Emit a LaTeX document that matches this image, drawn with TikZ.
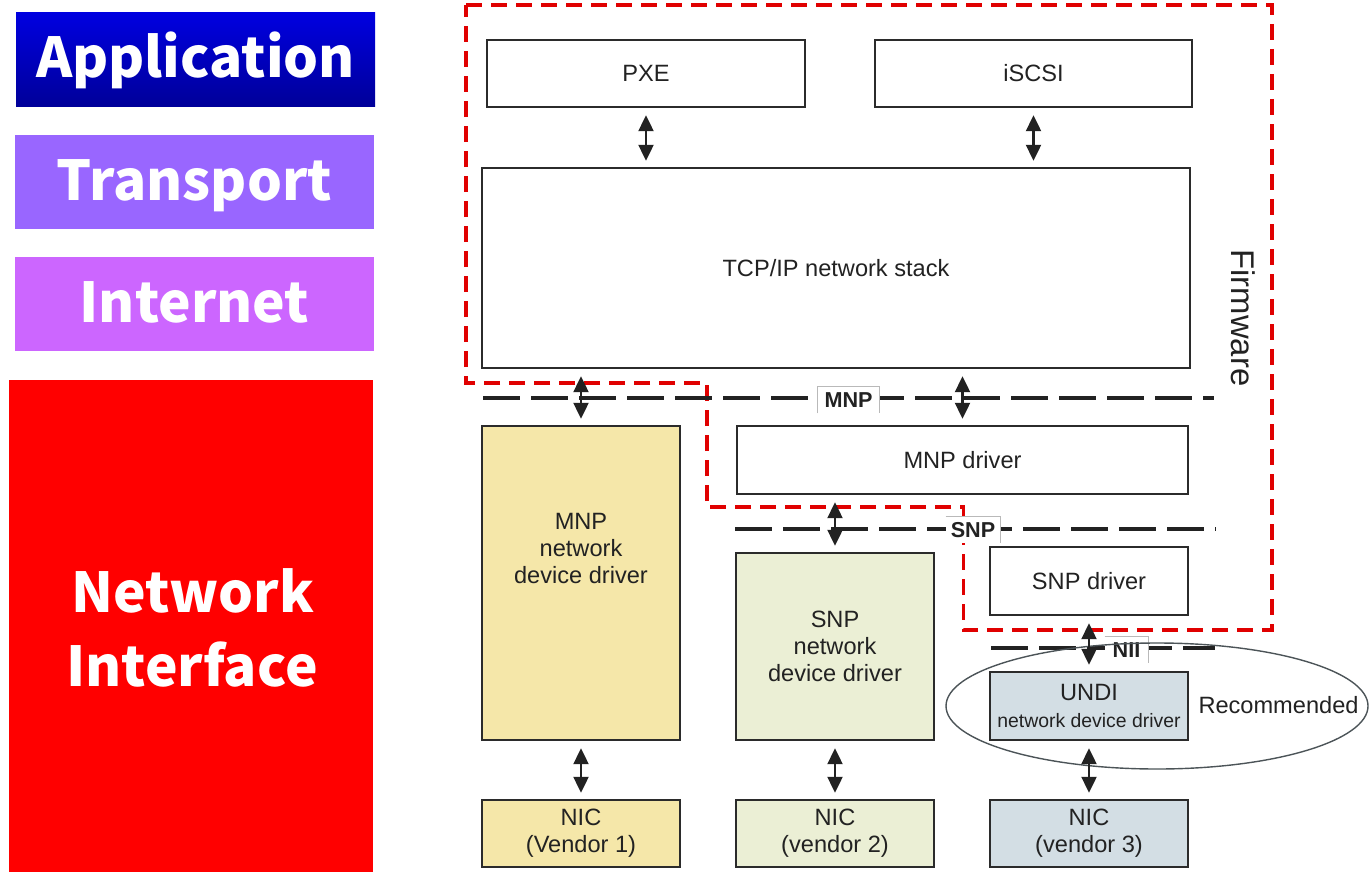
\documentclass[tikz,border=0pt]{standalone}
\usepackage{fontspec}
\setmainfont{Liberation Sans}
\newfontfamily\bandeau{Noto Sans CJK SC}
\usepackage{xcolor}
\usepackage{tikz}
\usetikzlibrary{arrows.meta}
\definecolor{appbleuhaut}{HTML}{0000E0}
\definecolor{appbleubas}{HTML}{000099}
\definecolor{transportviolet}{HTML}{9966FF}
\definecolor{internetmauve}{HTML}{CC66FF}
\definecolor{reseaurouge}{HTML}{FF0000}
\definecolor{firmrouge}{HTML}{E00000}
\definecolor{encre}{HTML}{222222}
\definecolor{cadre}{HTML}{2B2B2B}
\definecolor{ellipsegris}{HTML}{4C5458}
\definecolor{jaunepale}{HTML}{F5E7A9}
\definecolor{vertpale}{HTML}{EBEFD5}
\definecolor{bleupale}{HTML}{D3DEE4}

\begin{document}
\begin{tikzpicture}[x=0.5pt, y=-0.5pt,
    couche/.style={inner sep=0pt, minimum width=179.5pt, minimum height=47pt,
        text=white, font=\bandeau\bfseries\fontsize{27.5}{31}\selectfont,
        text height=18pt, text depth=0pt},
    boite/.style={draw=cadre, line width=1.2pt, fill=white, inner sep=0pt,
        text=encre, align=center, font=\fontsize{11.8}{13.5}\selectfont},
    fleche/.style={{Triangle[length=8pt,width=7.5pt]}-{Triangle[length=8pt,width=7.5pt]},
        line width=1.1pt, encre, shorten <=3.5pt, shorten >=3pt},
    limite/.style={line width=2pt, encre, dash pattern=on 18.5pt off 5.5pt},
    onglet/.style={fill=white, inner sep=0pt, minimum height=13pt, text=encre,
        font=\bfseries\fontsize{10.8}{12}\selectfont},
    bordonglet/.style={gray!55, line width=0.6pt}]
    \useasboundingbox (0,0) rectangle (1369,872);

    % Couches du modele TCP/IP
    \node[couche, top color=appbleuhaut, bottom color=appbleubas] (application) at (195.5,59.5) {Application};
    \node[couche, fill=transportviolet] (transport) at (194.5,182) {Transport};
    \node[couche, fill=internetmauve] (internet) at (194.5,304) {Internet};
    \node[couche, fill=reseaurouge, minimum width=182pt, minimum height=246pt] (interface) at (191,626) {};
    \node[couche, anchor=base, text height=] (interfacehaut) at (192.5,612) {Network};
    \node[couche, anchor=base, text height=] (interfacebas) at (192,686) {Interface};

    % Contour du firmware
    \draw[firmrouge, line width=1.8pt, dash pattern=on 8pt off 4.5pt]
        (466,5) -- (1272,5) -- (1272,630) -- (963.5,630) -- (963.5,507)
        -- (707,507) -- (707,383) -- (466,383) -- cycle;
    \node[rotate=-90, text=encre, font=\fontsize{16.4}{18}\selectfont] (firmware) at (1243,318) {Firmware};

    % Interfaces MNP, SNP et NII
    \draw[limite] (483,398) -- (1214,398);
    \draw[limite] (735,529) -- (1216,529);
    \draw[limite] (991,648) -- (1215,648);
    \node[onglet, minimum width=30.5pt] (mnp) at (848.5,400) {MNP};
    \node[onglet, minimum width=27pt] (snp) at (973,530) {SNP};
    \node[onglet, minimum width=21.5pt] (nii) at (1126.5,650) {NII};
    \draw[bordonglet] (mnp.south west) |- (mnp.north east) -- (mnp.south east);
    \draw[bordonglet] (snp.north west) -- (snp.north east) -- (snp.south east);
    \draw[bordonglet] (nii.north west) -- (nii.north east) -- (nii.south east);

    % Pile reseau
    \node[boite, minimum width=159pt, minimum height=33.5pt] (pxe) at (646,73.5) {PXE};
    \node[boite, minimum width=158.5pt, minimum height=33.5pt] (iscsi) at (1033.5,73.5) {iSCSI};
    \node[boite, minimum width=354pt, minimum height=100pt] (tcpip) at (836,268) {TCP/IP network stack};
    \node[boite, minimum width=225.5pt, minimum height=34pt] (mnpdriver) at (962.5,460) {MNP driver};
    \node[boite, minimum width=99pt, minimum height=34pt] (snpdriver) at (1089,581) {SNP driver};

    % Pilotes de peripheriques et cartes
    \node[boite, fill=jaunepale, minimum width=99pt, minimum height=157pt] (mnpnet) at (581,583) {};
    \node[text=encre, align=center, font=\fontsize{11.8}{13.5}\selectfont] (mnpnettexte) at (581,548)
        {MNP\\network\\device driver};
    \node[boite, fill=vertpale, minimum width=99pt, minimum height=93.5pt] (snpnet) at (835,646.5)
        {SNP\\network\\device driver};
    \draw[line width=0.7pt, color=ellipsegris] (1157,706) ellipse [x radius=105.5pt, y radius=31.5pt];
    \node[boite, fill=bleupale, minimum width=99pt, minimum height=34pt] (undi) at (1089,706)
        {UNDI\\{\fontsize{9.7}{11}\selectfont network device driver}};
    \node[text=encre, font=\fontsize{11.8}{13.5}\selectfont] (recommande) at (1278.5,705) {Recommended};
    \node[boite, fill=jaunepale, minimum width=99pt, minimum height=33.5pt] (nicun) at (581,833.5) {NIC\\(Vendor 1)};
    \node[boite, fill=vertpale, minimum width=99pt, minimum height=33.5pt] (nicdeux) at (835,833.5) {NIC\\(vendor 2)};
    \node[boite, fill=bleupale, minimum width=99pt, minimum height=33.5pt] (nictrois) at (1089,833.5) {NIC\\(vendor 3)};

    % Liaisons
    \draw[fleche] (pxe.south) -- (pxe.south |- tcpip.north);
    \draw[fleche] (iscsi.south) -- (iscsi.south |- tcpip.north);
    \draw[fleche] (tcpip.south -| mnpnet.north) -- (mnpnet.north);
    \draw[fleche] (tcpip.south -| mnpdriver.north) -- (mnpdriver.north);
    \draw[fleche] (mnpdriver.south -| snpnet.north) -- (snpnet.north);
    \draw[fleche] (snpdriver.south) -- (undi.north);
    \draw[fleche] (mnpnet.south) -- (nicun.north);
    \draw[fleche] (snpnet.south) -- (nicdeux.north);
    \draw[fleche] (undi.south) -- (nictrois.north);
\end{tikzpicture}
\end{document}
